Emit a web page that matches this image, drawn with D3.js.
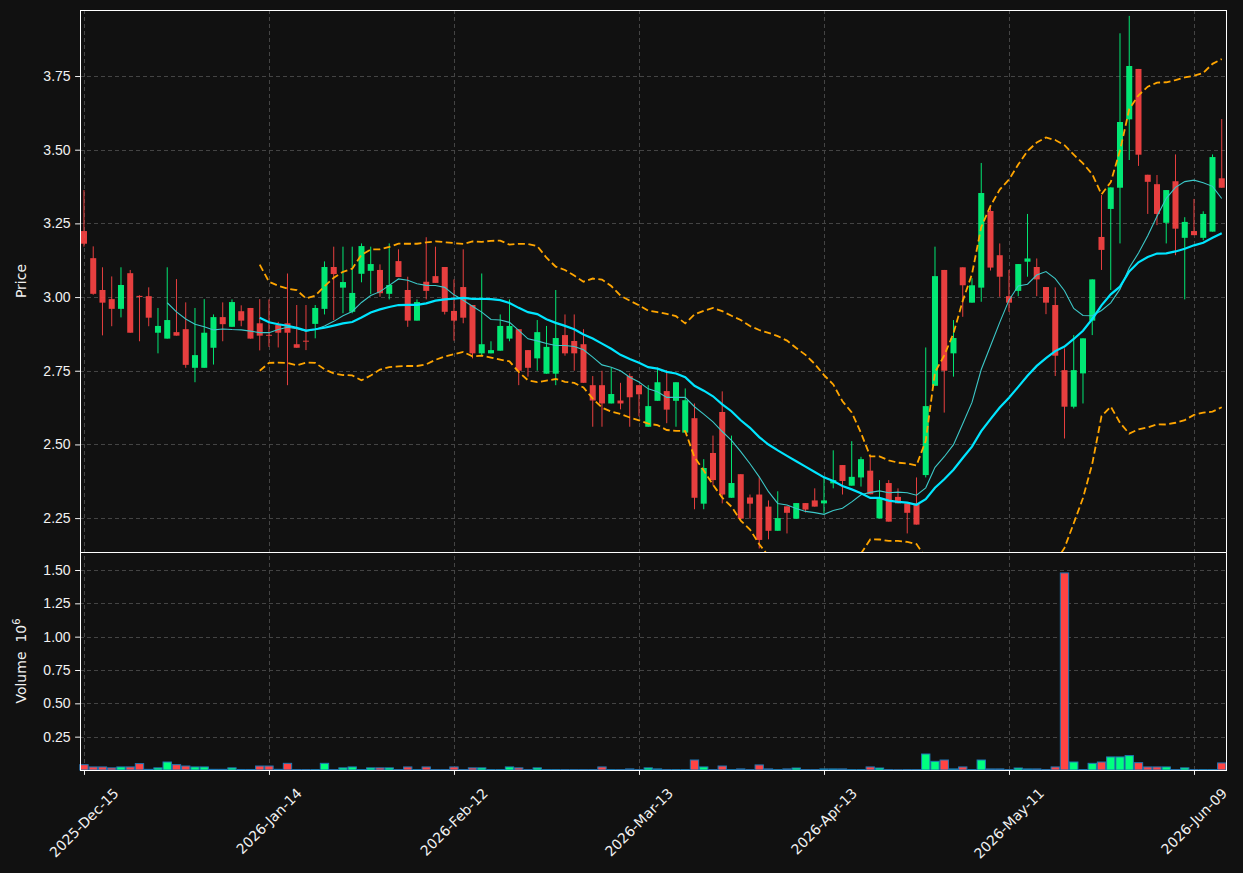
<!DOCTYPE html>
<html>
<head>
<meta charset="utf-8">
<script src="https://cdn.jsdelivr.net/npm/d3@7"></script>
<style>
    body { margin: 0; background: #111111; }
    svg { display: block; font-family: "DejaVu Sans", sans-serif; }
    .axis text { fill: #f2f2f2; font-size: 14px; }
    .axis line { stroke: #f2f2f2; }
    .grid line { stroke: #444444; stroke-width: 1; stroke-dasharray: 4,3; }
    .axis-label { fill: #f2f2f2; font-size: 14px; }
</style>
</head>
<body>
<div id="chart"></div>
<script>

// x axis: one candle per trading day, a tick every 20 sessions
var tickIndex = [0, 20, 40, 60, 80, 100, 120];
var tickLabels = ["2025-Dec-15", "2026-Jan-14", "2026-Feb-12", "2026-Mar-13", "2026-Apr-13", "2026-May-11", "2026-Jun-09"];

var priceTicks = [2.25, 2.50, 2.75, 3.00, 3.25, 3.50, 3.75];
var volumeTicks = [0.25, 0.50, 0.75, 1.00, 1.25, 1.50];

// daily OHLC
var opens = [3.224, 3.132, 3.024, 2.993, 2.960, 3.081, 3.004, 3.003, 2.879, 2.859,
    2.881, 2.891, 2.760, 2.760, 2.828, 2.932, 2.899, 2.952, 2.963, 2.911,
    2.872, 2.905, 2.911, 2.840, 2.852, 2.909, 2.960, 3.102, 3.032, 2.950,
    3.079, 3.089, 3.092, 3.011, 3.122, 3.024, 2.920, 3.052, 3.071, 3.102,
    2.953, 3.034, 2.973, 2.809, 2.809, 2.818, 2.859, 2.891, 2.820, 2.792,
    2.740, 2.740, 2.871, 2.851, 2.840, 2.701, 2.701, 2.639, 2.649, 2.732,
    2.701, 2.560, 2.648, 2.681, 2.648, 2.540, 2.589, 2.299, 2.471, 2.610,
    2.319, 2.399, 2.320, 2.330, 2.289, 2.207, 2.290, 2.248, 2.301, 2.310,
    2.300, 2.368, 2.430, 2.360, 2.388, 2.411, 2.249, 2.369, 2.322, 2.300,
    2.300, 2.396, 2.699, 3.092, 2.809, 3.101, 2.981, 3.032, 3.292, 3.142,
    3.003, 3.021, 3.120, 3.102, 3.034, 2.973, 2.752, 2.628, 2.741, 2.920,
    3.204, 3.299, 3.371, 3.603, 3.774, 3.415, 3.383, 3.252, 3.393, 3.201,
    3.224, 3.201, 3.222, 3.403];
var highs = [3.363, 3.172, 3.101, 3.070, 3.101, 3.092, 3.006, 3.033, 2.963, 3.101,
    3.061, 2.982, 2.963, 2.993, 2.941, 2.982, 2.992, 2.972, 2.963, 2.993,
    2.992, 2.916, 3.080, 2.973, 2.973, 2.973, 3.121, 3.171, 3.171, 3.171,
    3.182, 3.171, 3.111, 3.182, 3.162, 3.069, 2.992, 3.203, 3.171, 3.102,
    3.060, 3.162, 2.973, 3.080, 2.850, 2.941, 2.992, 2.891, 2.820, 2.922,
    2.902, 3.024, 2.941, 2.941, 2.891, 2.732, 2.750, 2.760, 2.709, 2.741,
    2.701, 2.701, 2.761, 2.752, 2.711, 2.690, 2.639, 2.450, 2.530, 2.680,
    2.530, 2.399, 2.330, 2.390, 2.310, 2.341, 2.290, 2.301, 2.301, 2.351,
    2.390, 2.480, 2.430, 2.511, 2.458, 2.458, 2.379, 2.379, 2.351, 2.300,
    2.388, 2.829, 3.171, 3.092, 2.922, 3.101, 3.064, 3.455, 3.310, 3.182,
    3.092, 3.112, 3.282, 3.131, 3.034, 3.033, 2.826, 2.871, 2.860, 3.060,
    3.346, 3.372, 3.895, 3.954, 3.774, 3.415, 3.414, 3.363, 3.484, 3.271,
    3.333, 3.291, 3.484, 3.604];
var lows = [3.171, 3.008, 2.870, 2.901, 2.931, 2.879, 2.850, 2.901, 2.809, 2.859,
    2.869, 2.760, 2.711, 2.760, 2.771, 2.850, 2.899, 2.901, 2.859, 2.819,
    2.831, 2.829, 2.701, 2.828, 2.820, 2.860, 2.941, 2.922, 2.945, 2.945,
    3.050, 3.010, 3.001, 2.992, 3.068, 2.899, 2.920, 2.992, 3.048, 2.941,
    2.852, 2.911, 2.792, 2.803, 2.809, 2.818, 2.850, 2.701, 2.730, 2.750,
    2.740, 2.701, 2.801, 2.750, 2.709, 2.560, 2.560, 2.639, 2.619, 2.560,
    2.595, 2.560, 2.648, 2.572, 2.560, 2.540, 2.280, 2.280, 2.361, 2.300,
    2.319, 2.248, 2.248, 2.147, 2.178, 2.207, 2.198, 2.248, 2.269, 2.289,
    2.266, 2.351, 2.330, 2.360, 2.357, 2.331, 2.249, 2.238, 2.300, 2.198,
    2.228, 2.388, 2.699, 2.608, 2.730, 2.933, 2.981, 2.984, 3.090, 3.001,
    2.950, 3.003, 3.069, 3.003, 2.942, 2.732, 2.520, 2.622, 2.639, 2.871,
    3.092, 3.024, 3.182, 3.465, 3.445, 3.282, 3.244, 3.182, 3.142, 2.992,
    3.210, 3.193, 3.222, 3.371];
var closes = [3.181, 3.011, 2.981, 2.960, 3.041, 2.879, 3.000, 2.930, 2.902, 2.922,
    2.869, 2.770, 2.803, 2.879, 2.932, 2.908, 2.983, 2.920, 2.859, 2.869,
    2.869, 2.879, 2.879, 2.828, 2.850, 2.963, 3.102, 3.078, 3.051, 3.014,
    3.173, 3.112, 3.013, 3.041, 3.068, 2.920, 2.983, 3.021, 3.048, 2.950,
    2.920, 2.930, 2.809, 2.840, 2.820, 2.902, 2.902, 2.750, 2.760, 2.881,
    2.831, 2.861, 2.809, 2.809, 2.709, 2.649, 2.639, 2.671, 2.639, 2.660,
    2.670, 2.630, 2.711, 2.618, 2.711, 2.650, 2.319, 2.420, 2.379, 2.330,
    2.369, 2.248, 2.299, 2.176, 2.207, 2.250, 2.268, 2.301, 2.279, 2.289,
    2.310, 2.379, 2.376, 2.390, 2.450, 2.331, 2.317, 2.238, 2.300, 2.268,
    2.228, 2.630, 3.071, 2.750, 2.861, 3.040, 3.040, 3.353, 3.100, 3.069,
    2.981, 3.112, 3.131, 3.060, 2.981, 2.801, 2.628, 2.752, 2.860, 3.060,
    3.160, 3.372, 3.594, 3.784, 3.483, 3.391, 3.282, 3.363, 3.232, 3.255,
    3.210, 3.282, 3.475, 3.371];
// volume in millions
var volumes = [0.040, 0.023, 0.023, 0.016, 0.023, 0.023, 0.048, 0.005, 0.016, 0.060,
    0.040, 0.030, 0.023, 0.023, 0.005, 0.005, 0.016, 0.004, 0.004, 0.030,
    0.030, 0.005, 0.050, 0.003, 0.003, 0.003, 0.050, 0.003, 0.016, 0.023,
    0.003, 0.016, 0.016, 0.016, 0.003, 0.023, 0.003, 0.023, 0.003, 0.003,
    0.023, 0.003, 0.016, 0.016, 0.003, 0.003, 0.023, 0.016, 0.003, 0.016,
    0.003, 0.003, 0.003, 0.003, 0.003, 0.003, 0.023, 0.003, 0.003, 0.008,
    0.003, 0.016, 0.008, 0.003, 0.003, 0.003, 0.075, 0.023, 0.003, 0.030,
    0.003, 0.008, 0.003, 0.038, 0.008, 0.003, 0.008, 0.015, 0.003, 0.003,
    0.008, 0.008, 0.008, 0.003, 0.003, 0.023, 0.015, 0.003, 0.002, 0.003,
    0.003, 0.120, 0.065, 0.075, 0.008, 0.023, 0.003, 0.075, 0.008, 0.008,
    0.003, 0.015, 0.008, 0.008, 0.003, 0.023, 1.478, 0.060, 0.003, 0.050,
    0.060, 0.098, 0.098, 0.108, 0.055, 0.023, 0.023, 0.023, 0.003, 0.016,
    0.003, 0.003, 0.003, 0.053];

var upColor = "#00ff7f", downColor = "#ff4444";


CandleChart = function(_parentElement){
    this.parentElement = _parentElement;
    this.initVis();
}

CandleChart.prototype.initVis = function(){
    var vis = this;

    vis.width = 1243;
    vis.height = 873;
    vis.left = 80; vis.right = 1226;
    vis.priceTop = 10; vis.priceBottom = 552;
    vis.volBottom = 770;

    vis.svg = d3.select("#"+vis.parentElement).append("svg")
        .attr("width", vis.width)
        .attr("height", vis.height);

    vis.svg.append("rect")
        .attr("width", vis.width).attr("height", vis.height)
        .attr("fill", "#111111");

    vis.data = opens.map(function(o, i){
        return {i: i, open: o, high: highs[i], low: lows[i], close: closes[i], volume: volumes[i]};
    });

    // scales
    vis.x = d3.scaleLinear()
        .domain([-0.43, opens.length - 0.54])
        .range([vis.left, vis.right]);
    vis.yPrice = d3.scaleLinear()
        .domain([2.135, 3.974])
        .range([vis.priceBottom, vis.priceTop]);
    vis.yVol = d3.scaleLinear()
        .domain([0, 1.635])
        .range([vis.volBottom, vis.priceBottom]);

    vis.step = vis.x(1) - vis.x(0);

    // clip for the price panel (bands run off the bottom)
    vis.svg.append("clipPath").attr("id", "price-clip")
        .append("rect")
        .attr("x", vis.left).attr("y", vis.priceTop)
        .attr("width", vis.right - vis.left)
        .attr("height", vis.priceBottom - vis.priceTop);

    vis.drawGrid();
    vis.drawVolume();
    vis.drawCandles();
    vis.drawLines();
    vis.drawAxes();
}

CandleChart.prototype.drawGrid = function(){
    var vis = this;
    var grid = vis.svg.append("g").attr("class", "grid");

    grid.selectAll("line.vx")
        .data(tickIndex)
        .enter().append("line")
        .attr("x1", function(d){ return Math.round(vis.x(d)) + 0.5; })
        .attr("x2", function(d){ return Math.round(vis.x(d)) + 0.5; })
        .attr("y1", vis.priceTop)
        .attr("y2", vis.volBottom);

    grid.selectAll("line.hp")
        .data(priceTicks)
        .enter().append("line")
        .attr("x1", vis.left).attr("x2", vis.right)
        .attr("y1", function(d){ return Math.round(vis.yPrice(d)) + 0.5; })
        .attr("y2", function(d){ return Math.round(vis.yPrice(d)) + 0.5; });

    grid.selectAll("line.hv")
        .data(volumeTicks)
        .enter().append("line")
        .attr("x1", vis.left).attr("x2", vis.right)
        .attr("y1", function(d){ return Math.round(vis.yVol(d)) + 0.5; })
        .attr("y2", function(d){ return Math.round(vis.yVol(d)) + 0.5; });
}

CandleChart.prototype.drawVolume = function(){
    var vis = this;
    var bw = vis.step * 0.9;

    vis.svg.append("g").selectAll("rect")
        .data(vis.data)
        .enter().append("rect")
        .attr("x", function(d){ return vis.x(d.i) - bw/2; })
        .attr("y", function(d){ return vis.yVol(d.volume); })
        .attr("width", bw)
        .attr("height", function(d){ return vis.volBottom - vis.yVol(d.volume); })
        .attr("fill", function(d){ return d.close >= d.open ? upColor : downColor; })
        .attr("stroke", "#1f77b4")
        .attr("stroke-width", 1);
}

CandleChart.prototype.drawCandles = function(){
    var vis = this;
    var bw = vis.step * 0.65;

    var g = vis.svg.append("g").attr("clip-path", "url(#price-clip)");

    var candle = g.selectAll("g.candle")
        .data(vis.data)
        .enter().append("g")
        .attr("class", "candle")
        .attr("opacity", 0.9);

    candle.append("line")
        .attr("x1", function(d){ return vis.x(d.i); })
        .attr("x2", function(d){ return vis.x(d.i); })
        .attr("y1", function(d){ return vis.yPrice(d.high); })
        .attr("y2", function(d){ return vis.yPrice(d.low); })
        .attr("stroke", function(d){ return d.close >= d.open ? upColor : downColor; })
        .attr("stroke-width", 1);

    candle.append("rect")
        .attr("x", function(d){ return vis.x(d.i) - bw/2; })
        .attr("y", function(d){ return vis.yPrice(Math.max(d.open, d.close)); })
        .attr("width", bw)
        .attr("height", function(d){
            return Math.max(1, Math.abs(vis.yPrice(d.open) - vis.yPrice(d.close)));
        })
        .attr("fill", function(d){ return d.close >= d.open ? upColor : downColor; });
}

CandleChart.prototype.drawLines = function(){
    var vis = this;

    // moving averages and bollinger bands (20, 2) on the closes
    function rolling(n, fn){
        return closes.map(function(c, i){
            if (i < n - 1) return null;
            return fn(closes.slice(i - n + 1, i + 1));
        });
    }
    var ma10 = rolling(10, d3.mean);
    var ma20 = rolling(20, d3.mean);
    var sd20 = rolling(20, d3.deviation);
    var upper = ma20.map(function(m, i){ return m === null ? null : m + 2 * sd20[i]; });
    var lower = ma20.map(function(m, i){ return m === null ? null : m - 2 * sd20[i]; });

    var line = d3.line()
        .defined(function(d){ return d !== null; })
        .x(function(d, i){ return vis.x(i); })
        .y(function(d){ return vis.yPrice(d); });

    var g = vis.svg.append("g").attr("clip-path", "url(#price-clip)");

    [upper, lower].forEach(function(band){
        g.append("path")
            .attr("d", line(band))
            .attr("fill", "none")
            .attr("stroke", "#ffa500")
            .attr("stroke-width", 1.8)
            .attr("stroke-dasharray", "7,3.5");
    });

    g.append("path")
        .attr("d", line(ma10))
        .attr("fill", "none")
        .attr("stroke", "#3cc8c8")
        .attr("stroke-width", 1.1);

    g.append("path")
        .attr("d", line(ma20))
        .attr("fill", "none")
        .attr("stroke", "#00e5ff")
        .attr("stroke-width", 2.2);
}

CandleChart.prototype.drawAxes = function(){
    var vis = this;

    var yAxisPrice = d3.axisLeft(vis.yPrice)
        .tickValues(priceTicks)
        .tickFormat(d3.format(".2f"))
        .tickSize(4.9).tickPadding(4.5);
    vis.svg.append("g").attr("class", "axis")
        .attr("transform", "translate(" + vis.left + ",0)")
        .call(yAxisPrice)
        .call(function(g){ g.select(".domain").remove(); });

    var yAxisVol = d3.axisLeft(vis.yVol)
        .tickValues(volumeTicks)
        .tickFormat(d3.format(".2f"))
        .tickSize(4.9).tickPadding(4.5);
    vis.svg.append("g").attr("class", "axis")
        .attr("transform", "translate(" + vis.left + ",0)")
        .call(yAxisVol)
        .call(function(g){ g.select(".domain").remove(); });

    var xAxis = d3.axisBottom(vis.x)
        .tickValues(tickIndex)
        .tickFormat("")
        .tickSize(4.9);
    vis.svg.append("g").attr("class", "axis")
        .attr("transform", "translate(0," + vis.volBottom + ")")
        .call(xAxis)
        .call(function(g){ g.select(".domain").remove(); });

    // rotated date labels, centred under each tick
    var labels = vis.svg.append("g").attr("class", "axis");
    tickIndex.forEach(function(d, k){
        var t = labels.append("text")
            .attr("text-anchor", "middle")
            .attr("dominant-baseline", "central")
            .text(tickLabels[k]);
        var len = t.node().getComputedTextLength();
        var cx = vis.x(d);
        var cy = vis.volBottom + 15 + (len + 16) * Math.SQRT1_2 / 2;
        t.attr("x", cx).attr("y", cy)
            .attr("transform", "rotate(-45," + cx + "," + cy + ")");
    });

    // panel frames
    [[vis.priceTop, vis.priceBottom], [vis.priceBottom, vis.volBottom]].forEach(function(p){
        vis.svg.append("rect")
            .attr("x", vis.left + 0.5).attr("y", p[0] + 0.5)
            .attr("width", vis.right - vis.left)
            .attr("height", p[1] - p[0])
            .attr("fill", "none")
            .attr("stroke", "#ffffff")
            .attr("stroke-width", 1);
    });

    // axis titles
    vis.svg.append("text")
        .attr("class", "axis-label")
        .attr("text-anchor", "middle")
        .attr("transform", "translate(26," + ((vis.priceTop + vis.priceBottom)/2) + ") rotate(-90)")
        .text("Price");

    var vl = vis.svg.append("text")
        .attr("class", "axis-label")
        .attr("text-anchor", "middle")
        .attr("transform", "translate(26," + ((vis.priceBottom + vis.volBottom)/2) + ") rotate(-90)");
    vl.append("tspan").text("Volume\u00a0\u00a010");
    vl.append("tspan").attr("font-size", "10px").attr("dy", "-6").text("6");
}

var chart = new CandleChart("chart");

</script>
</body>
</html>
